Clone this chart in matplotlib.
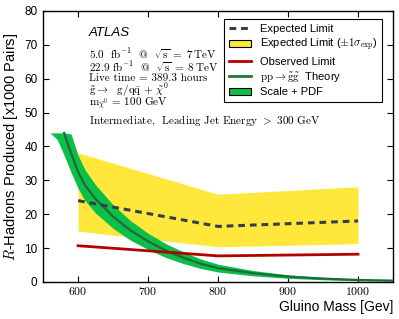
import matplotlib
matplotlib.use("Agg")
import matplotlib.pyplot as plt
import matplotlib.patches as mpatches
import matplotlib.lines as mlines
import numpy as np

plt.rcParams['font.family'] = ['Liberation Sans', 'DejaVu Sans']
plt.rcParams['mathtext.fontset'] = 'cm'

# limits measured at three mass points
mass = [600, 800, 1000]
expected = [24.0, 16.4, 18.0]
expected_lo = [15.0, 10.4, 11.3]
expected_hi = [38.1, 25.9, 28.1]
observed = [10.7, 7.7, 8.2]

# theory cross-section curve and its relative scale+PDF uncertainty
theory_mass = [560, 570, 580, 590, 600, 610, 625, 650, 675, 700, 725, 750,
               775, 800, 850, 900, 950, 1000, 1050]
theory = [56, 49.5, 44, 38, 32.5, 28.5, 24.5, 19.3, 15.2, 12.0, 9.3, 7.2,
          5.4, 4.1, 2.6, 1.6, 1.0, 0.6, 0.4]
theory_err = [.15, .15, .15, .15, .15, .16, .17, .18, .19, .20, .22, .24,
              .26, .28, .30, .32, .35, .40, .45]
clip_top = 44

x_ticks = [600, 700, 800, 900, 1000]
y_ticks = [0, 10, 20, 30, 40, 50, 60, 70, 80]

info_lines = [
    r'5.0  fb$^{-1}$  @  $\sqrt{\mathrm{s}}\;=\;7\,\mathrm{TeV}$',
    r'22.9 fb$^{-1}$  @  $\sqrt{\mathrm{s}}\;=\;8\,\mathrm{TeV}$',
    r'Live time = 389.3 hours',
    r'$\tilde{\mathrm{g}}\rightarrow$  g/q$\bar{\mathrm{q}}$ + $\tilde{\chi}^{0}$',
    r'm$_{\tilde{\chi}^{0}}$ = 100 GeV',
    r'Intermediate,  Leading Jet Energy $>$ 300 GeV',
]
SERIF = ['cmr10', 'DejaVu Serif']

YELLOW = '#ffe83b'
GREEN = '#0cbf48'
DARKGREEN = '#1f6a3c'
RED = '#b30000'
DASH = '#363d4a'


def main():
    fig = plt.figure(figsize=(3.99, 3.19), dpi=100)
    ax = fig.add_axes([0.108, 0.116, 0.877, 0.85])

    tm = np.array(theory_mass, dtype=float)
    tc = np.array(theory)
    te = np.array(theory_err)
    up = np.minimum(tc * (1 + te), clip_top)
    lo = np.minimum(tc * (1 - te), clip_top)

    ax.fill_between(mass, expected_lo, expected_hi, color=YELLOW, lw=0, zorder=1)
    ax.fill_between(tm, lo, up, color=GREEN, lw=0, zorder=2)
    ok = tc <= clip_top
    ax.plot(tm[ok], tc[ok], color=DARKGREEN, lw=1.6, zorder=3)
    ax.plot(mass, observed, color=RED, lw=2, zorder=4)
    ax.plot(mass, expected, color=DASH, lw=2.2, ls=(0, (2.2, 1.6)), zorder=5)

    ax.set_xlim(550, 1050)
    ax.set_ylim(0, 80)
    ax.set_xticks(x_ticks)
    ax.set_xticklabels(['$%d$' % v for v in x_ticks], fontsize=8.5)
    ax.set_yticks(y_ticks)
    ax.set_yticklabels([str(v) for v in y_ticks], fontsize=8.5)
    ax.tick_params(direction='in', length=4, width=0.8, top=True, right=True)
    ax.tick_params(axis='x', pad=3)
    ax.tick_params(axis='y', pad=4)
    for s in ax.spines.values():
        s.set_linewidth(1.0)

    ax.set_xlabel('Gluino Mass [Gev]', fontsize=10, loc='right', labelpad=1)
    ax.set_ylabel(r'$R$-Hadrons Produced [x1000 Pairs]', fontsize=10.5,
                  labelpad=3)

    ax.text(0.13, 0.918, 'ATLAS', transform=ax.transAxes, fontsize=9.5,
            style='italic', va='center')
    line_y = [0.843, 0.795, 0.753, 0.708, 0.657, 0.594]
    for yy, line in zip(line_y, info_lines):
        ax.text(0.13, yy, line, transform=ax.transAxes, family=SERIF,
                fontsize=8, va='center')

    handles = [
        mlines.Line2D([], [], color=DASH, lw=2.2, ls=(0, (2.2, 1.6))),
        mpatches.Patch(facecolor=YELLOW, edgecolor='black', lw=0.8),
        mlines.Line2D([], [], color=RED, lw=2),
        mlines.Line2D([], [], color='#1e7a3e', lw=2),
        mpatches.Patch(facecolor=GREEN, edgecolor='black', lw=0.8),
    ]
    labels = [
        'Expected Limit',
        r'Expected Limit ($\pm1\sigma_{\mathrm{exp}}$)',
        'Observed Limit',
        r'$\mathrm{pp}\rightarrow\mathrm{\tilde{g}\tilde{g}}$  Theory',
        'Scale + PDF',
    ]
    leg = ax.legend(handles, labels, loc='upper right', fontsize=8,
                    bbox_to_anchor=(0.985, 0.99), fancybox=False,
                    framealpha=1, edgecolor='black', handlelength=2.0,
                    handletextpad=0.8, labelspacing=0.3, borderpad=0.4)
    leg.get_frame().set_linewidth(0.8)

    fig.savefig('out.png', dpi=100)


if __name__ == "__main__":
    main()
